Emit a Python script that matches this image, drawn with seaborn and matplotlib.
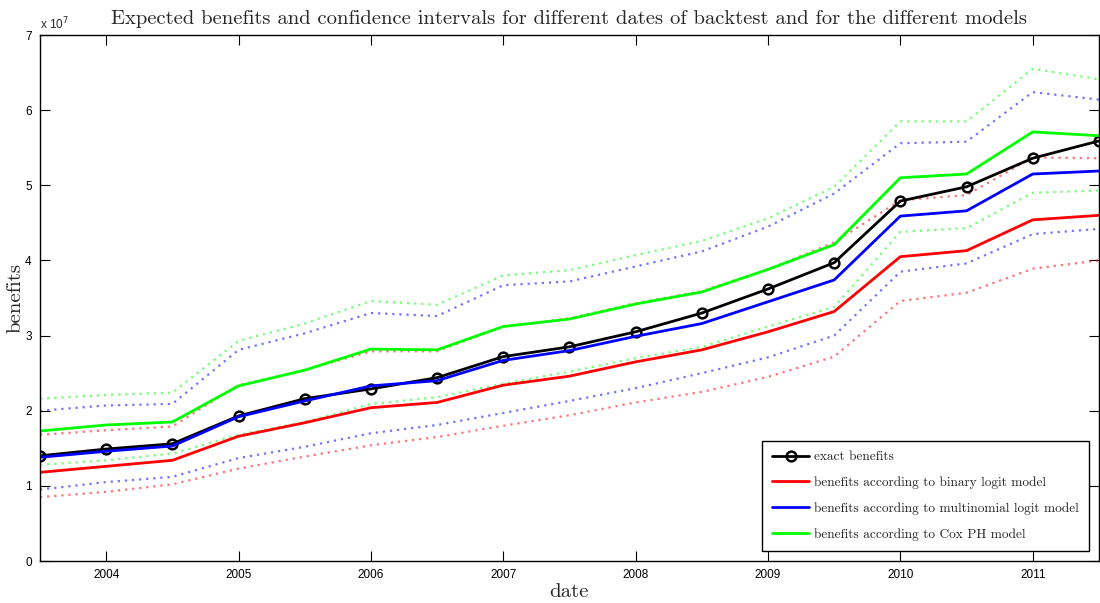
import numpy as np
import pandas as pd
import matplotlib
matplotlib.use("Agg")
import matplotlib.pyplot as plt
import seaborn as sns

# Backtest dates (half-year steps) and expected benefits, in units of 1e7
dates = [2003.5, 2004.0, 2004.5, 2005.0, 2005.5, 2006.0, 2006.5, 2007.0, 2007.5,
         2008.0, 2008.5, 2009.0, 2009.5, 2010.0, 2010.5, 2011.0, 2011.5]

exact = [1.40, 1.49, 1.56, 1.93, 2.16, 2.29, 2.44, 2.72, 2.85, 3.05, 3.30, 3.62,
         3.97, 4.79, 4.98, 5.36, 5.59]
binary = [1.18, 1.26, 1.34, 1.66, 1.84, 2.04, 2.11, 2.34, 2.46, 2.65, 2.81, 3.05,
          3.32, 4.05, 4.13, 4.54, 4.60]
multinomial = [1.38, 1.46, 1.53, 1.92, 2.13, 2.33, 2.40, 2.67, 2.80, 2.99, 3.16, 3.45,
               3.74, 4.59, 4.66, 5.15, 5.19]
cox = [1.73, 1.81, 1.85, 2.33, 2.54, 2.82, 2.81, 3.12, 3.22, 3.42, 3.58, 3.88,
       4.21, 5.10, 5.15, 5.71, 5.66]

# Confidence interval bounds
binary_lo = [0.85, 0.92, 1.02, 1.23, 1.39, 1.54, 1.65, 1.80, 1.94, 2.11, 2.25, 2.45,
             2.72, 3.46, 3.57, 3.89, 4.00]
binary_hi = [1.68, 1.74, 1.79, 2.34, 2.54, 2.79, 2.79, 3.12, 3.23, 3.43, 3.59, 3.88,
             4.24, 4.80, 4.87, 5.37, 5.36]
multi_lo = [0.95, 1.05, 1.12, 1.37, 1.52, 1.70, 1.81, 1.97, 2.13, 2.30, 2.50, 2.71,
            3.00, 3.85, 3.96, 4.35, 4.42]
multi_hi = [2.00, 2.07, 2.09, 2.81, 3.03, 3.30, 3.26, 3.67, 3.72, 3.92, 4.12, 4.45,
            4.89, 5.56, 5.58, 6.24, 6.14]
cox_lo = [1.28, 1.34, 1.43, 1.68, 1.85, 2.09, 2.18, 2.36, 2.52, 2.70, 2.85, 3.12,
          3.38, 4.38, 4.43, 4.90, 4.93]
cox_hi = [2.16, 2.21, 2.24, 2.93, 3.16, 3.46, 3.41, 3.80, 3.87, 4.07, 4.26, 4.56,
          4.98, 5.85, 5.85, 6.55, 6.41]

year_ticks = [2004, 2005, 2006, 2007, 2008, 2009, 2010, 2011]
y_ticks = [0, 1, 2, 3, 4, 5, 6, 7]

labels = ["exact benefits",
          "benefits according to binary logit model",
          "benefits according to multinomial logit model",
          "benefits according to Cox PH model"]

sns.set_style("ticks")
plt.rcParams["font.family"] = ["Liberation Sans", "DejaVu Sans"]

fig = plt.figure(figsize=(11.0, 6.03), dpi=100)
ax = fig.add_axes([40 / 1100, 1 - 561 / 603, 1060 / 1100 - 0.001, 526 / 603])

RED, BLUE, GREEN = "#ff0000", "#0000ff", "#00ff00"

# confidence bands (dotted)
for lo, hi, col in [(binary_lo, binary_hi, RED), (multi_lo, multi_hi, BLUE),
                    (cox_lo, cox_hi, GREEN)]:
    for bound in (lo, hi):
        sns.lineplot(x=dates, y=bound, ax=ax, color=col, linestyle=(0, (1, 2.2)),
                     linewidth=1.6, alpha=0.55, legend=False)

# expected benefits
sns.lineplot(x=dates, y=exact, ax=ax, color="black", linewidth=2.0, marker="o",
             markersize=7, markerfacecolor="none", markeredgecolor="black",
             markeredgewidth=1.8, label=labels[0])
sns.lineplot(x=dates, y=binary, ax=ax, color=RED, linewidth=2.0, label=labels[1])
sns.lineplot(x=dates, y=multinomial, ax=ax, color=BLUE, linewidth=2.0, label=labels[2])
sns.lineplot(x=dates, y=cox, ax=ax, color=GREEN, linewidth=2.0, label=labels[3])

ax.set_xlim(2003.5, 2011.5)
ax.set_ylim(0, 7)
ax.set_xticks(year_ticks)
ax.set_xticklabels([str(y) for y in year_ticks])
ax.set_yticks(y_ticks)
ax.set_yticklabels([str(v) for v in y_ticks])
ax.tick_params(direction="in", length=7, width=0.8, top=True, right=True,
               labelsize=8.5, colors="black", pad=6)
for side in ["top", "right", "bottom", "left"]:
    ax.spines[side].set_visible(True)
    ax.spines[side].set_linewidth(1.0)
    ax.spines[side].set_color("black")

serif = "cmr10"
ax.set_title("Expected benefits and confidence intervals for different dates of "
             "backtest and for the different models",
             fontfamily=serif, fontsize=14.8, pad=8)
ax.set_xlabel("date", fontfamily=serif, fontsize=15, labelpad=1)
ax.set_ylabel("benefits", fontfamily=serif, fontsize=15, labelpad=0.5)
ax.text(0.0, 1.005, "x 10$^{7}$", transform=ax.transAxes, fontsize=8.5,
        ha="left", va="bottom")

leg = ax.legend(loc="lower right", prop={"family": serif, "size": 9.6},
                frameon=True, fancybox=False, edgecolor="black", framealpha=1,
                borderaxespad=0.75, handlelength=2.8, labelspacing=1.0,
                borderpad=0.75, handletextpad=0.35)
leg.get_frame().set_linewidth(1.0)

fig.savefig("out.png", dpi=100)
